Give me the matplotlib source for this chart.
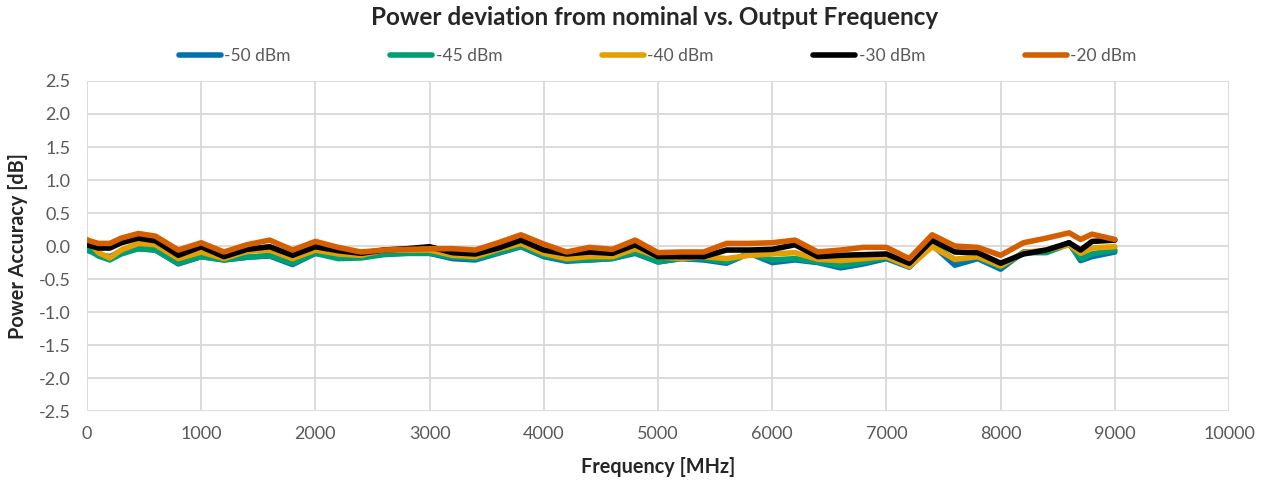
import numpy as np
import matplotlib
matplotlib.use("Agg")
from matplotlib import pyplot as plt

plt.rcParams['font.family'] = ['Lato', 'DejaVu Sans']
plt.rcParams['axes.unicode_minus'] = False

# frequency points [MHz]
freq = [0, 100, 200, 300, 450, 600, 800, 1000, 1200, 1400, 1600, 1800, 2000,
        2200, 2400, 2600, 2800, 3000, 3200, 3400, 3600, 3800, 4000, 4200,
        4400, 4600, 4800, 5000, 5200, 5400, 5600, 5800, 6000, 6200, 6400,
        6600, 6800, 7000, 7200, 7400, 7600, 7800, 8000, 8200, 8400, 8600,
        8700, 8800, 9000]

# power accuracy [dB] per output level
p_m50 = [-0.06, -0.13, -0.16, -0.08, -0.04, -0.06, -0.27, -0.16, -0.21, -0.17,
         -0.15, -0.28, -0.11, -0.16, -0.15, -0.12, -0.11, -0.11, -0.19, -0.21,
         -0.11, -0.01, -0.16, -0.23, -0.21, -0.19, -0.11, -0.24, -0.19, -0.21,
         -0.26, -0.11, -0.25, -0.21, -0.25, -0.33, -0.27, -0.19, -0.32, 0.02,
         -0.29, -0.19, -0.35, -0.09, -0.09, 0.05, -0.22, -0.16, -0.09]
p_m45 = [-0.04, -0.15, -0.21, -0.12, -0.04, -0.06, -0.26, -0.16, -0.21, -0.17,
         -0.14, -0.26, -0.11, -0.19, -0.18, -0.13, -0.11, -0.11, -0.16, -0.19,
         -0.10, 0.00, -0.14, -0.21, -0.21, -0.19, -0.09, -0.24, -0.19, -0.19,
         -0.24, -0.11, -0.21, -0.19, -0.24, -0.30, -0.24, -0.17, -0.31, 0.02,
         -0.21, -0.17, -0.32, -0.10, -0.10, 0.03, -0.19, -0.12, -0.06]
p_m40 = [0.10, -0.10, -0.18, -0.06, 0.04, 0.02, -0.19, -0.09, -0.19, -0.08,
         -0.06, -0.19, -0.06, -0.12, -0.14, -0.06, -0.06, -0.06, -0.14, -0.16,
         -0.05, 0.04, -0.11, -0.19, -0.16, -0.16, -0.04, -0.16, -0.19, -0.16,
         -0.19, -0.14, -0.12, -0.10, -0.20, -0.22, -0.19, -0.16, -0.31, -0.01,
         -0.20, -0.16, -0.30, -0.10, -0.06, 0.02, -0.11, -0.03, -0.01]
p_m30 = [0.02, -0.03, -0.03, 0.05, 0.12, 0.08, -0.14, -0.01, -0.16, -0.05,
         -0.01, -0.14, -0.01, -0.07, -0.11, -0.06, -0.04, -0.01, -0.10, -0.12,
         -0.03, 0.09, -0.06, -0.12, -0.09, -0.11, 0.02, -0.16, -0.16, -0.16,
         -0.06, -0.06, -0.05, 0.02, -0.16, -0.14, -0.13, -0.12, -0.26, 0.09,
         -0.09, -0.10, -0.26, -0.12, -0.06, 0.05, -0.06, 0.07, 0.09]
p_m20 = [0.09, 0.04, 0.04, 0.12, 0.19, 0.15, -0.06, 0.05, -0.09, 0.02,
         0.09, -0.06, 0.07, -0.02, -0.09, -0.06, -0.05, -0.04, -0.04, -0.06,
         0.05, 0.17, 0.03, -0.09, -0.02, -0.05, 0.09, -0.10, -0.09, -0.09,
         0.04, 0.04, 0.05, 0.09, -0.09, -0.06, -0.02, -0.02, -0.19, 0.17,
         0.00, -0.02, -0.14, 0.05, 0.12, 0.20, 0.10, 0.18, 0.10]

labels = ['-50 dBm', '-45 dBm', '-40 dBm', '-30 dBm', '-20 dBm']
colors = ['#0072b2', '#009e73', '#e69f00', '#000000', '#d55e00']
series = [p_m50, p_m45, p_m40, p_m30, p_m20]

fig = plt.figure(figsize=(12.66, 4.82), dpi=100)
ax = fig.add_axes([0.0687, 0.147, 0.9021, 0.685])

for vals, lab, col in zip(series, labels, colors):
    ax.plot(freq, vals, color=col, lw=4.0, label=lab,
            solid_joinstyle='round', solid_capstyle='round')

ax.set_xlim(0, 10000)
ax.set_ylim(-2.5, 2.5)
ax.set_xticks(np.arange(0, 10001, 1000))
ax.set_yticks(np.arange(-2.5, 2.51, 0.5))
ax.yaxis.set_major_formatter(matplotlib.ticker.FormatStrFormatter('%.1f'))
ax.grid(True, color='#d9d9d9', lw=1.3)
ax.set_axisbelow(True)
for s in ax.spines.values():
    s.set_visible(False)
ax.tick_params(length=0, labelsize=13, labelcolor='#595959')
ax.tick_params(axis='x', pad=11)
ax.tick_params(axis='y', pad=12)

fig.text(0.52, 0.031, 'Frequency [MHz]', fontsize=14.3, fontweight='bold',
         color='#262626', ha='center', va='center')
fig.text(0.0142, 0.4896, 'Power Accuracy [dB]', fontsize=14.3, fontweight='bold',
         color='#262626', ha='center', va='center', rotation=90)
fig.text(0.517, 0.963, 'Power deviation from nominal vs. Output Frequency',
         fontsize=17.5, fontweight='bold', color='#262626', ha='center', va='center')

ax.legend(loc='center', bbox_to_anchor=(0.5195, 0.884), bbox_transform=fig.transFigure,
          ncol=5, frameon=False, fontsize=12.5, handlelength=2.4,
          handletextpad=0.2, columnspacing=5.75, labelcolor='#595959')

fig.savefig('out.png', dpi=100)
